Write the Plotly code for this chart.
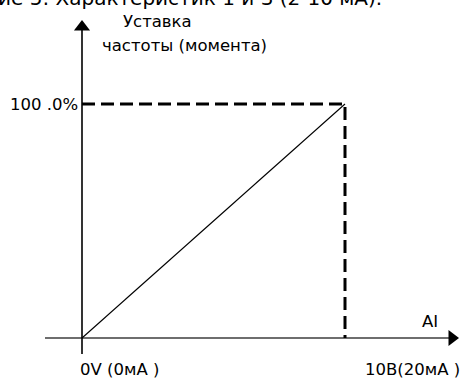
import plotly.graph_objects as go

# характеристика AI -> уставка
ai_input = [0, 10]          # В
setpoint = [0, 100]         # %
x_tick_labels = ["0V (0мА )", "10В(20мА )"]
y_tick_label = "100 .0%"
caption = "ие 5: Характеристик 1 и 3 (2-10 мА)."

W, H = 466, 381
# pixel placement of origin and of (10, 100)
X0_PX, X1_PX = 82, 345
Y0_PX, Y1_PX = 338, 104
sx = (X1_PX - X0_PX) / (ai_input[1] - ai_input[0])
sy = (Y0_PX - Y1_PX) / (setpoint[1] - setpoint[0])
x_range = [-X0_PX / sx, (W - X0_PX) / sx]
y_range = [-(H - Y0_PX) / sy, Y0_PX / sy]


def px_x(p):
    return (p - X0_PX) / sx


def px_y(p):
    return (Y0_PX - p) / sy


FONT = "DejaVu Sans, sans-serif"
fig = go.Figure()

# axes
fig.add_trace(go.Scatter(x=[px_x(45), px_x(450)], y=[0, 0], mode="lines",
                         line=dict(color="#6e6e6e", width=2.2), hoverinfo="skip"))
fig.add_trace(go.Scatter(x=[0, 0], y=[px_y(354), px_y(28)], mode="lines",
                         line=dict(color="black", width=1.6), hoverinfo="skip"))
fig.add_trace(go.Scatter(x=[px_x(452)], y=[0], mode="markers",
                         marker=dict(symbol="triangle-right", size=14, color="black"),
                         hoverinfo="skip"))
fig.add_trace(go.Scatter(x=[0], y=[px_y(27)], mode="markers",
                         marker=dict(symbol="triangle-up", size=14, color="black"),
                         hoverinfo="skip"))

# dashed guides
fig.add_trace(go.Scatter(x=[ai_input[0], ai_input[1], ai_input[1]],
                         y=[setpoint[1], setpoint[1], setpoint[0]], mode="lines",
                         line=dict(color="black", width=3, dash="13px,6px"),
                         hoverinfo="skip"))
# characteristic
fig.add_trace(go.Scatter(x=ai_input, y=setpoint, mode="lines",
                         line=dict(color="black", width=1.1), hoverinfo="skip"))

ann = dict(showarrow=False, font=dict(family=FONT, size=16.5, color="black"))
fig.add_annotation(x=px_x(80), y=setpoint[1], text=y_tick_label, xanchor="right",
                   yanchor="middle", **ann)
fig.add_annotation(x=px_x(78), y=px_y(369), text=x_tick_labels[0], xanchor="left",
                   yanchor="middle", **ann)
fig.add_annotation(x=px_x(462), y=px_y(369), text=x_tick_labels[1], xanchor="right",
                   yanchor="middle", **ann)
fig.add_annotation(x=px_x(430), y=px_y(321), text="AI", xanchor="center",
                   yanchor="middle", **ann)
fig.add_annotation(x=px_x(157), y=px_y(21), text="Уставка", xanchor="center",
                   yanchor="middle", **ann)
fig.add_annotation(x=px_x(184), y=px_y(45), text="частоты (момента)", xanchor="center",
                   yanchor="middle", **ann)
fig.add_annotation(x=0, y=1, xref="paper", yref="paper", text=caption,
                   xanchor="left", yanchor="bottom", yshift=-12, xshift=-4,
                   showarrow=False, font=dict(family=FONT, size=20, color="black"))

fig.update_layout(
    width=W, height=H, margin=dict(l=0, r=0, t=0, b=0),
    plot_bgcolor="white", paper_bgcolor="white", showlegend=False,
    xaxis=dict(range=x_range, visible=False, fixedrange=True),
    yaxis=dict(range=y_range, visible=False, fixedrange=True),
)

fig.write_html("out.html", config={"displayModeBar": False},
               post_script="document.body.style.margin='0';")
